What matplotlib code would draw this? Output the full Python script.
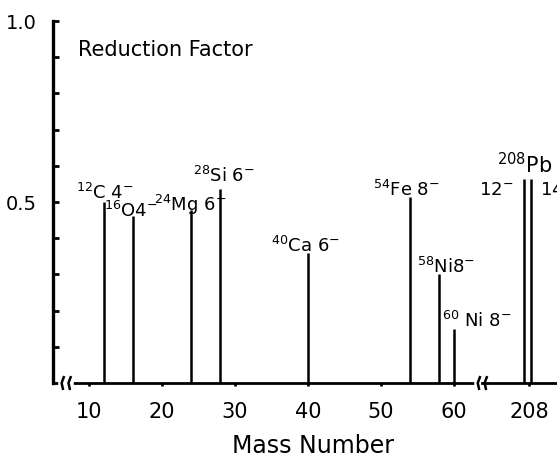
import matplotlib.pyplot as plt
from matplotlib.transforms import offset_copy

# reduction factor per beam
light_mass = [12, 16, 24, 28, 40, 54, 58, 60]
light_factor = [0.50, 0.46, 0.477, 0.535, 0.36, 0.515, 0.30, 0.15]
light_labels = [r"$^{12}$C 4$^{-}$", r"$^{16}$O4$^{-}$", r"$^{24}$Mg 6$^{-}$",
                r"$^{28}$Si 6$^{-}$", r"$^{40}$Ca 6$^{-}$", r"$^{54}$Fe 8$^{-}$",
                r"$^{58}$Ni8$^{-}$", r"$^{60}$ Ni 8$^{-}$"]
pb_mass = [208, 208]
pb_factor = [0.563, 0.563]
pb_charge = [r"12$^{-}$", r"14$^{-}$"]

left_ticks = [10, 20, 30, 40, 50, 60]
right_ticks = [208]

plt.rcParams['font.family'] = ['DejaVu Sans']
plt.rcParams['mathtext.fontset'] = 'dejavusans'

fig = plt.figure(figsize=(5.57, 4.60), dpi=100)
ax = fig.add_axes([0.0952, 0.1652, 0.7702, 0.787])
ax2 = fig.add_axes([0.8654, 0.1652, 0.1346, 0.787], sharey=ax)
ax2.patch.set_visible(False)

lw = 1.8
ax.vlines(light_mass, 0, light_factor, color='black', lw=lw)

# two charge states of Pb drawn side by side at A=208
shifts = [-3.6, 1.4]
for m, f, dx in zip(pb_mass, pb_factor, shifts):
    tr = offset_copy(ax2.transData, fig=fig, x=dx, y=0, units='points')
    ax2.vlines(m, 0, f, color='black', lw=lw, transform=tr)

ax.set_xlim(5.07, 63.84)
ax2.set_xlim(201.56, 211.84)
ax.set_ylim(0, 1.0)

for a in (ax, ax2):
    a.spines['top'].set_visible(False)
    a.spines['right'].set_visible(False)
    a.spines['bottom'].set_linewidth(2)
ax.spines['left'].set_linewidth(2.4)
ax2.spines['left'].set_visible(False)

ax.set_xticks(left_ticks)
ax2.set_xticks(right_ticks)
ax.set_yticks([0.5, 1.0])
ax.set_yticklabels(['0.5', '1.0'])
ax.set_yticks([0.1, 0.2, 0.3, 0.4, 0.6, 0.7, 0.8, 0.9], minor=True)
ax.tick_params(axis='y', which='both', direction='in', length=4, width=2,
               labelsize=14, pad=12)
for a in (ax, ax2):
    a.tick_params(axis='x', direction='out', length=2, width=2, labelsize=15, pad=11)
ax2.tick_params(axis='y', which='both', left=False, labelleft=False)

# labels above each line, offsets in points from the line top
offsets = [(-20, 3), (-20.5, 0), (-27, 0), (-20, 5.8), (-26.6, 1.4), (-26.6, 1.4),
           (-15.8, 1.4), (-8.6, 2)]
for m, f, lab, off in zip(light_mass, light_factor, light_labels, offsets):
    ax.annotate(lab, (m, f), xytext=off, textcoords='offset points',
                fontsize=13, ha='left', va='baseline')

ax2.annotate(r"$^{208}$Pb", (208, pb_factor[0]), xytext=(-23, 5),
             textcoords='offset points', fontsize=15, ha='left', va='baseline')
ax2.annotate(pb_charge[0], (208, pb_factor[0]), xytext=(-11.5, -10.8),
             textcoords='offset points', fontsize=13, ha='right', va='baseline')
ax2.annotate(pb_charge[1], (208, pb_factor[1]), xytext=(8, -10.8),
             textcoords='offset points', fontsize=13, ha='left', va='baseline',
             annotation_clip=False)

fig.text(0.140, 0.891, "Reduction Factor", fontsize=15, ha='left', va='center')
fig.text(0.562, 0.030, "Mass Number", fontsize=17, ha='center', va='center')

# break marks on the x axis
breaks = [0.030, 1.0]
for xb in breaks:
    ax.plot([xb - 0.012, xb + 0.012], [0, 0], color='white', lw=4,
            transform=ax.transAxes, clip_on=False, zorder=5)
    for d in (-0.008, 0.008):
        ax.plot([xb + d + 0.003, xb + d - 0.002, xb + d + 0.001],
                [0.016, 0.0, -0.016], color='black', lw=1.8,
                transform=ax.transAxes, clip_on=False, zorder=6)

fig.savefig('out.png', dpi=100)
